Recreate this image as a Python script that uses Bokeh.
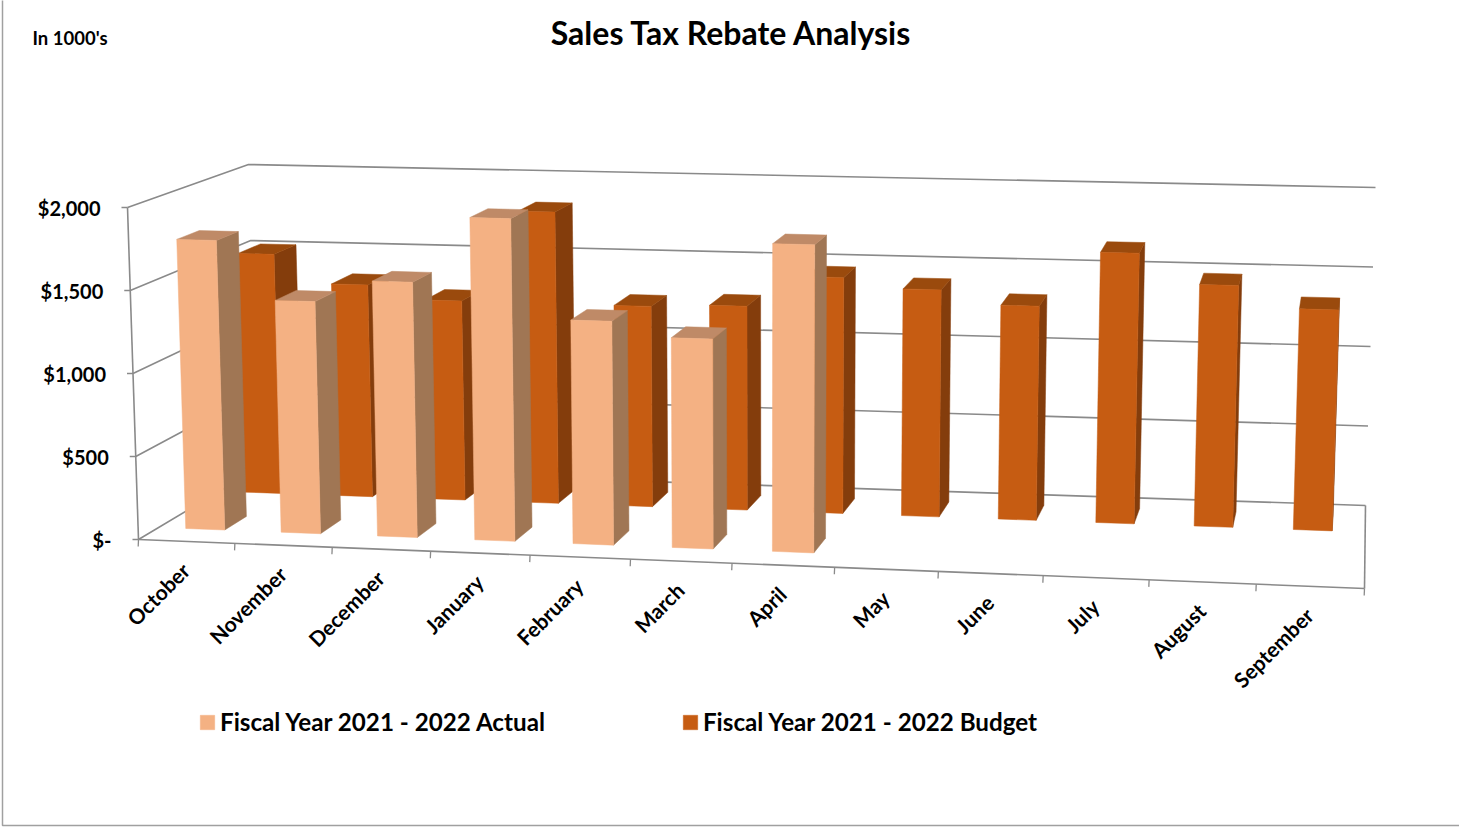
from bokeh.embed import file_html
from bokeh.resources import INLINE
from bokeh.plotting import figure
from bokeh.models import ColumnDataSource, Range1d, Legend, LegendItem
from bokeh.core.properties import value

# ---- data (in $1000's) ----
categories = ["October", "November", "December", "January", "February", "March",
              "April", "May", "June", "July", "August", "September"]
actual = [1765, 1410, 1545, 1946, 1345, 1257, 1838]
budget = [1524, 1345, 1259, 1836, 1258, 1275, 1470, 1410, 1325, 1668, 1485, 1352]
value_ticks = [0, 500, 1000, 1500, 2000]
value_labels = ["$-", "$500", "$1,000", "$1,500", "$2,000"]
series_names = ["Fiscal Year 2021 - 2022 Actual", "Fiscal Year 2021 - 2022 Budget"]
title_text = "Sales Tax Rebate Analysis"
unit_text = "In 1000's"

# ---- 3D box projection: corners of the chart box on the page ----
W, H = 1459, 828
VMAX = 2000
FBL, FBR = (138, 539), (1364, 588)
BBL, BBR = (257, 468), (1365, 505)
FTL, FTR = (127, 207), (1375, 241)
BTL, BTR = (248, 164), (1375, 187)


def lerp(a, b, t):
    return (a[0] + (b[0] - a[0]) * t, a[1] + (b[1] - a[1]) * t)


def project(cat, depth, val):
    u = cat / len(categories)
    w = 1.0656 - 0.025 * depth          # categories nearer the viewer look wider
    u = u / (u + w * (1 - u))
    f = val / VMAX
    bottom = lerp(lerp(FBL, FBR, u), lerp(BBL, BBR, u), depth)
    top = lerp(lerp(FTL, FTR, u), lerp(BTL, BTR, u), depth)
    return lerp(bottom, top, f)


def faces(values, d0, d1, bar_l, bar_r):
    out = {"front": ([], []), "side": ([], []), "top": ([], [])}

    def add(name, pts):
        out[name][0].append([q[0] for q in pts])
        out[name][1].append([q[1] for q in pts])

    for i, v in enumerate(values):
        l, r = i + bar_l, i + bar_r
        add("front", [project(l, d0, 0), project(r, d0, 0), project(r, d0, v), project(l, d0, v)])
        add("side", [project(r, d0, 0), project(r, d1, 0), project(r, d1, v), project(r, d0, v)])
        add("top", [project(l, d0, v), project(r, d0, v), project(r, d1, v), project(l, d1, v)])
    return out


p = figure(width=W, height=H, x_range=Range1d(0, W), y_range=Range1d(H, 0),
           output_backend="svg", toolbar_location=None, x_axis_type=None, y_axis_type=None,
           min_border=0, outline_line_color=None, margin=0,
           background_fill_color="white", border_fill_color="white")
p.grid.visible = False

GRID = "#8a8a8a"
LW = 1.6

# chart frame
p.line([2, 2, W + 5], [-5, 825, 825], line_color="#a0a0a0", line_width=1.5)

# walls / gridlines
for v in value_ticks:
    a, b, c = project(0, 0, v), project(0, 1, v), project(len(categories), 1, v)
    p.line([a[0], b[0], c[0]], [a[1], b[1], c[1]], line_color=GRID, line_width=LW)

# value axis, floor edges, ticks
n = len(categories)
a, b = project(0, 0, 0), project(0, 0, VMAX)
p.line([a[0], b[0]], [a[1], b[1]], line_color=GRID, line_width=LW)
a, b = project(0, 0, 0), project(n, 0, 0)
p.line([a[0], b[0]], [a[1], b[1]], line_color=GRID, line_width=LW)
a, b = project(n, 1, 0), project(n, 0, 0)
p.line([a[0], b[0]], [a[1], b[1]], line_color=GRID, line_width=LW)
for i in range(n + 1):
    q = project(i, 0, 0)
    p.line([q[0], q[0] - 0.3], [q[1], q[1] + 7], line_color=GRID, line_width=1.3)
for v in value_ticks:
    q = project(0, 0, v)
    p.line([q[0] - 6, q[0]], [q[1], q[1]], line_color=GRID, line_width=1.3)

# bars
ACT = ("#F4B183", "#A07654", "#BF8A67")
BUD = ("#C65C12", "#843D0C", "#9A4A0D")
leg = {}
for name, vals, d0, d1, cols, bl, br in ((series_names[1], budget, 0.68, 0.87, BUD, 0.28, 0.67),
                                         (series_names[0], actual, 0.17, 0.36, ACT, 0.285, 0.695)):
    fc = faces(vals, d0, d1, bl, br)
    for key, col in (("side", cols[1]), ("top", cols[2]), ("front", cols[0])):
        src = ColumnDataSource(dict(xs=fc[key][0], ys=fc[key][1]))
        r = p.patches("xs", "ys", source=src, fill_color=col, line_color=col, line_width=0.5)
        if key == "front":
            leg[name] = r

# value labels
tl = [project(0, 0, v) for v in value_ticks]
p.text([q[0] - 27 for q in tl], [q[1] for q in tl], text=value_labels,
       text_font=value("Lato"), text_font_style="bold", text_font_size="20px",
       text_color="black", text_align="right", text_baseline="middle")

# category labels
cl = [project(i + 0.5, 0, 0) for i in range(n)]
p.text([q[0] - 1 for q in cl], [q[1] + 25 for q in cl], text=categories,
       text_font=value("Lato"), text_font_style="bold", text_font_size="21px",
       text_color="black", text_align="right", text_baseline="middle", angle=45, angle_units="deg")

# title and unit note
p.text([731], [32], text=[title_text], text_font=value("Lato"), text_font_style="bold",
       text_font_size="32px", text_color="black", text_align="center", text_baseline="middle")
p.text([32], [37], text=[unit_text], text_font=value("Lato"), text_font_style="bold",
       text_font_size="18.5px", text_color="black", text_align="left", text_baseline="middle")

legend = Legend(items=[LegendItem(label=s, renderers=[leg[s]]) for s in series_names],
                orientation="horizontal", location=(198, 92), border_line_color=None,
                background_fill_alpha=0, glyph_width=18, glyph_height=18, label_standoff=4,
                spacing=136, padding=10, margin=0, label_text_font="Lato",
                label_text_font_style="bold", label_text_font_size="24.2px", label_text_color="black")
p.add_layout(legend, "center")

open("out.html", "w").write(file_html(p, INLINE))
